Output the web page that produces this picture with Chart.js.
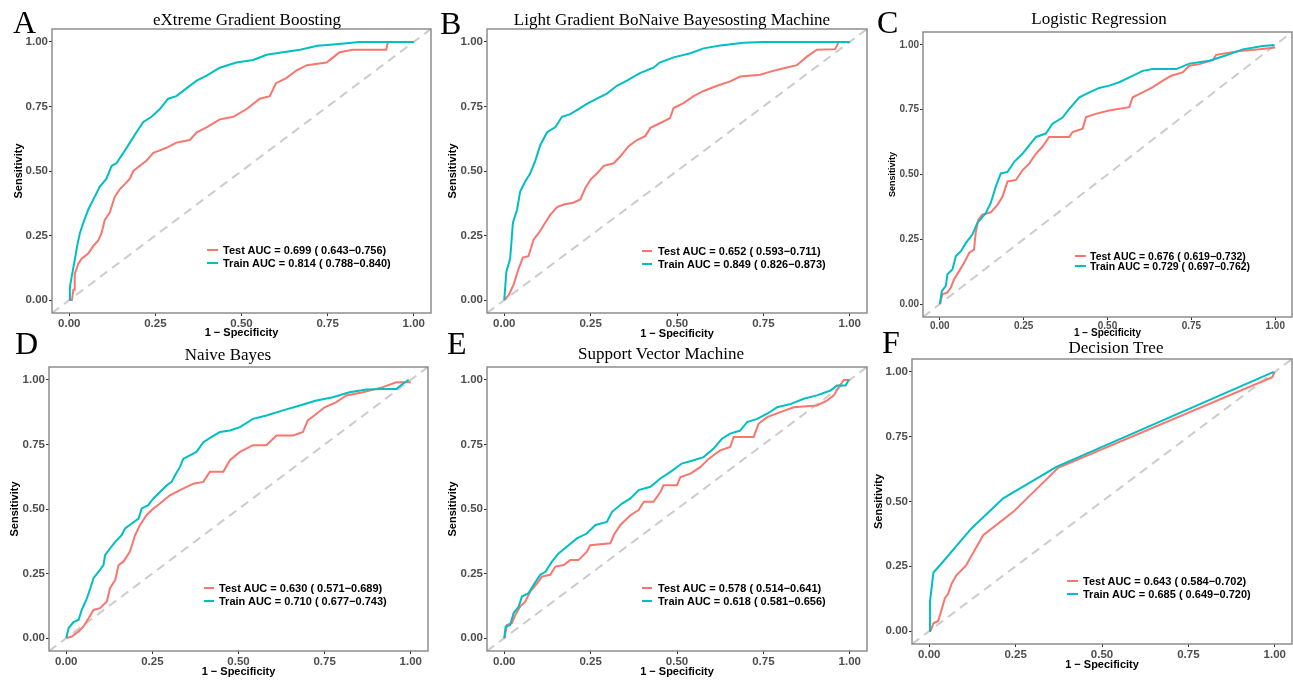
<!DOCTYPE html>
<html>
<head>
<meta charset="utf-8">
<script src="https://cdn.jsdelivr.net/npm/chart.js@4"></script>
<style>
  body { margin: 0; background: #fff; }
  #page { position: relative; width: 1293px; height: 681px; overflow: hidden; background: #fff; }
  .panel { position: absolute; }
  .letter { position: absolute; font-family: "Liberation Serif", "Times New Roman", serif; font-size: 32px; line-height: 32px; color: #000; }
  .title { position: absolute; font-family: "Liberation Serif", "Times New Roman", serif; font-size: 17px; line-height: 17px; color: #000; white-space: nowrap; transform: translateX(-50%); }
  .legLine { position: absolute; height: 2px; }
  .legText { position: absolute; font-family: "Liberation Sans", Arial, sans-serif; font-weight: bold; font-size: 11px; line-height: 13px; color: #000; white-space: nowrap; }
</style>
</head>
<body>
<div id="page"></div>
<script>
// ticks shared by every panel
const tickValues = [0, 0.25, 0.5, 0.75, 1];
const tickLabels = ["0.00", "0.25", "0.50", "0.75", "1.00"];

const panelLetters = ["A", "B", "C", "D", "E", "F"];
const panelTitles = [
    "eXtreme Gradient Boosting",
    "Light Gradient BoNaive Bayesosting Machine",
    "Logistic Regression",
    "Naive Bayes",
    "Support Vector Machine",
    "Decision Tree"
];
const testLabels = [
    "Test AUC = 0.699 ( 0.643\u22120.756)",
    "Test AUC = 0.652 ( 0.593\u22120.711)",
    "Test AUC = 0.676 ( 0.619\u22120.732)",
    "Test AUC = 0.630 ( 0.571\u22120.689)",
    "Test AUC = 0.578 ( 0.514\u22120.641)",
    "Test AUC = 0.643 ( 0.584\u22120.702)"
];
const trainLabels = [
    "Train AUC = 0.814 ( 0.788\u22120.840)",
    "Train AUC = 0.849 ( 0.826\u22120.873)",
    "Train AUC = 0.729 ( 0.697\u22120.762)",
    "Train AUC = 0.710 ( 0.677\u22120.743)",
    "Train AUC = 0.618 ( 0.581\u22120.656)",
    "Train AUC = 0.685 ( 0.649\u22120.720)"
];

// ROC points [1 - specificity, sensitivity]
const xgbTrain = [[0,0],[0.002,0.05],[0.007,0.09],[0.014,0.14],[0.023,0.21],[0.031,0.26],[0.041,0.30],[0.055,0.35],[0.07,0.39],[0.089,0.44],[0.108,0.47],[0.123,0.52],[0.137,0.53],[0.157,0.57],[0.176,0.61],[0.195,0.65],[0.215,0.69],[0.239,0.71],[0.263,0.74],[0.287,0.78],[0.311,0.79],[0.34,0.82],[0.37,0.85],[0.40,0.87],[0.437,0.90],[0.485,0.92],[0.534,0.93],[0.573,0.95],[0.62,0.96],[0.67,0.97],[0.72,0.985],[0.766,0.99],[0.843,1.0],[1,1]];
const xgbTest = [[0,0],[0.008,0.0],[0.012,0.04],[0.016,0.04],[0.016,0.10],[0.026,0.14],[0.036,0.16],[0.055,0.18],[0.07,0.21],[0.084,0.23],[0.094,0.26],[0.103,0.31],[0.118,0.34],[0.132,0.40],[0.147,0.43],[0.162,0.45],[0.176,0.47],[0.186,0.50],[0.205,0.52],[0.224,0.54],[0.244,0.57],[0.263,0.58],[0.282,0.59],[0.311,0.61],[0.35,0.62],[0.37,0.65],[0.40,0.67],[0.437,0.70],[0.476,0.71],[0.515,0.74],[0.553,0.78],[0.582,0.79],[0.60,0.84],[0.63,0.86],[0.66,0.89],[0.69,0.91],[0.747,0.92],[0.766,0.94],[0.785,0.96],[0.824,0.97],[0.92,0.97],[0.925,1.0],[1,1]];

const lgbmTrain = [[0,0],[0.006,0.11],[0.017,0.16],[0.025,0.30],[0.037,0.35],[0.046,0.42],[0.061,0.46],[0.075,0.49],[0.09,0.54],[0.104,0.60],[0.124,0.65],[0.148,0.67],[0.167,0.71],[0.191,0.72],[0.215,0.74],[0.239,0.76],[0.268,0.78],[0.297,0.80],[0.326,0.83],[0.355,0.85],[0.394,0.88],[0.432,0.90],[0.45,0.92],[0.49,0.94],[0.539,0.956],[0.577,0.975],[0.625,0.986],[0.693,0.997],[0.75,1.0],[1,1]];
const lgbmTest = [[0,0],[0.013,0.02],[0.027,0.06],[0.041,0.12],[0.054,0.165],[0.07,0.17],[0.085,0.235],[0.10,0.26],[0.114,0.29],[0.133,0.33],[0.153,0.36],[0.172,0.37],[0.20,0.377],[0.22,0.39],[0.235,0.435],[0.25,0.467],[0.268,0.49],[0.288,0.52],[0.317,0.53],[0.336,0.557],[0.36,0.596],[0.384,0.62],[0.408,0.635],[0.423,0.667],[0.452,0.686],[0.48,0.705],[0.49,0.744],[0.519,0.763],[0.548,0.79],[0.577,0.81],[0.616,0.83],[0.654,0.847],[0.683,0.866],[0.741,0.873],[0.77,0.885],[0.809,0.898],[0.847,0.91],[0.876,0.943],[0.905,0.97],[0.958,0.972],[0.968,1.0],[1,1]];

const lrTrain = [[0,0],[0.006,0.05],[0.018,0.07],[0.023,0.115],[0.038,0.134],[0.048,0.185],[0.063,0.204],[0.078,0.236],[0.097,0.268],[0.112,0.313],[0.137,0.351],[0.152,0.39],[0.167,0.453],[0.182,0.504],[0.202,0.51],[0.222,0.549],[0.247,0.581],[0.267,0.613],[0.287,0.645],[0.316,0.658],[0.336,0.696],[0.366,0.72],[0.386,0.753],[0.416,0.798],[0.446,0.817],[0.475,0.834],[0.505,0.843],[0.535,0.856],[0.565,0.875],[0.605,0.90],[0.635,0.907],[0.705,0.907],[0.744,0.928],[0.804,0.939],[0.854,0.96],[0.903,0.983],[0.963,0.996],[0.998,1.0]];
const lrTest = [[0,0],[0.008,0.038],[0.023,0.045],[0.033,0.064],[0.043,0.096],[0.058,0.128],[0.073,0.16],[0.088,0.198],[0.102,0.21],[0.107,0.275],[0.115,0.326],[0.127,0.345],[0.152,0.354],[0.172,0.383],[0.187,0.415],[0.202,0.473],[0.227,0.479],[0.247,0.517],[0.267,0.543],[0.287,0.581],[0.306,0.607],[0.326,0.645],[0.386,0.645],[0.396,0.664],[0.426,0.677],[0.436,0.722],[0.465,0.734],[0.505,0.747],[0.565,0.76],[0.575,0.798],[0.605,0.817],[0.635,0.837],[0.665,0.862],[0.69,0.881],[0.724,0.894],[0.744,0.92],[0.774,0.926],[0.814,0.941],[0.824,0.962],[0.894,0.977],[0.953,0.983],[1.0,0.99]];

const nbTrain = [[0,0],[0.007,0.039],[0.021,0.062],[0.036,0.071],[0.045,0.109],[0.06,0.154],[0.07,0.193],[0.079,0.232],[0.094,0.257],[0.108,0.283],[0.113,0.322],[0.127,0.347],[0.142,0.373],[0.161,0.399],[0.171,0.425],[0.19,0.444],[0.21,0.463],[0.219,0.502],[0.238,0.515],[0.253,0.541],[0.272,0.566],[0.292,0.592],[0.306,0.605],[0.316,0.631],[0.33,0.663],[0.34,0.695],[0.359,0.708],[0.378,0.721],[0.398,0.759],[0.422,0.779],[0.446,0.798],[0.475,0.804],[0.504,0.817],[0.542,0.849],[0.581,0.862],[0.629,0.882],[0.678,0.901],[0.726,0.92],[0.774,0.933],[0.822,0.952],[0.871,0.963],[0.919,0.965],[0.958,0.965],[0.977,0.985],[0.994,1.0]];
const nbTest = [[0,0],[0.016,0.006],[0.036,0.026],[0.05,0.045],[0.065,0.077],[0.079,0.109],[0.098,0.116],[0.118,0.142],[0.127,0.193],[0.142,0.225],[0.152,0.283],[0.166,0.296],[0.185,0.335],[0.2,0.399],[0.214,0.438],[0.233,0.476],[0.253,0.502],[0.272,0.521],[0.301,0.553],[0.33,0.573],[0.369,0.598],[0.398,0.605],[0.417,0.644],[0.456,0.644],[0.475,0.689],[0.504,0.721],[0.542,0.747],[0.581,0.747],[0.61,0.785],[0.659,0.785],[0.687,0.798],[0.701,0.843],[0.72,0.862],[0.75,0.894],[0.784,0.914],[0.813,0.94],[0.861,0.952],[0.919,0.972],[0.958,0.991],[1.0,0.991]];

const svmTrain = [[0,0],[0.004,0.045],[0.017,0.051],[0.027,0.097],[0.042,0.122],[0.051,0.161],[0.07,0.174],[0.085,0.206],[0.104,0.245],[0.119,0.257],[0.138,0.296],[0.157,0.328],[0.181,0.354],[0.21,0.386],[0.239,0.405],[0.264,0.438],[0.297,0.45],[0.312,0.489],[0.341,0.521],[0.365,0.541],[0.389,0.573],[0.423,0.586],[0.452,0.618],[0.481,0.644],[0.514,0.676],[0.548,0.689],[0.577,0.701],[0.606,0.734],[0.63,0.772],[0.654,0.792],[0.683,0.804],[0.703,0.837],[0.732,0.849],[0.761,0.869],[0.79,0.894],[0.83,0.907],[0.867,0.927],[0.905,0.94],[0.944,0.959],[0.963,0.978],[0.988,0.978],[0.997,1.0]];
const svmTest = [[0,0],[0.008,0.051],[0.022,0.058],[0.032,0.09],[0.046,0.122],[0.061,0.142],[0.075,0.18],[0.095,0.212],[0.109,0.238],[0.133,0.245],[0.148,0.277],[0.172,0.283],[0.191,0.302],[0.215,0.302],[0.239,0.335],[0.249,0.36],[0.307,0.367],[0.317,0.399],[0.336,0.438],[0.365,0.476],[0.389,0.496],[0.404,0.528],[0.432,0.528],[0.452,0.566],[0.461,0.592],[0.5,0.592],[0.51,0.624],[0.539,0.637],[0.568,0.663],[0.592,0.695],[0.625,0.727],[0.654,0.74],[0.664,0.779],[0.722,0.779],[0.736,0.83],[0.761,0.856],[0.799,0.875],[0.838,0.894],[0.905,0.901],[0.934,0.92],[0.954,0.94],[0.968,0.972],[0.983,1.0],[1,1]];

const dtTrain = [[0,0],[0.002,0.113],[0.012,0.226],[0.031,0.254],[0.122,0.396],[0.214,0.512],[0.368,0.634],[0.997,1.0]];
const dtTest = [[0,0],[0.005,0.004],[0.012,0.03],[0.026,0.039],[0.045,0.126],[0.055,0.145],[0.065,0.184],[0.079,0.216],[0.106,0.252],[0.156,0.37],[0.243,0.46],[0.373,0.63],[0.993,0.98],[1,1]];

// chance line across the whole panel (ggplot 5% expansion)
const refLine = [[-0.05, -0.05], [1.05, 1.05]];

const trainSeries = [xgbTrain, lgbmTrain, lrTrain, nbTrain, svmTrain, dtTrain];
const testSeries = [xgbTest, lgbmTest, lrTest, nbTest, svmTest, dtTest];

// layout of each panel in page pixels: plot box, axis-title centres, legend, letter, title
const layouts = [
    { L: 52, T: 29, R: 431, B: 313, sx: 19, sy: 333, fs: 11.5, ys: 11, tp: 1, lg: [207, 218, 223, 250, 263], let: [13, 33], ti: [247, 25] },
    { L: 487, T: 29, R: 867, B: 313, sx: 453, sy: 334, fs: 11.5, ys: 11, tp: 1, lg: [642, 652, 658, 251, 264], let: [440, 34], ti: [672, 25] },
    { L: 923, T: 32, R: 1292, B: 317, sx: 892, sy: 333, fs: 10, ys: 9, tp: 0, lg: [1075, 1086, 1090, 256, 266], let: [877, 33], ti: [1099, 24] },
    { L: 49, T: 367, R: 428, B: 651, sx: 15, sy: 672, fs: 11.5, ys: 11, tp: 1, lg: [204, 214, 219, 588, 601], let: [15, 354], ti: [228, 360] },
    { L: 487, T: 367, R: 867, B: 651, sx: 453, sy: 672, fs: 11.5, ys: 11, tp: 1, lg: [642, 652, 658, 588, 601], let: [447, 354], ti: [661, 359] },
    { L: 912, T: 359, R: 1292, B: 644, sx: 879, sy: 665, fs: 11.5, ys: 11, tp: 1, lg: [1067, 1078, 1083, 581, 594], let: [882, 353], ti: [1116, 353] }
];

const testColor = "#F8766D";
const trainColor = "#00BFC4";

const framePlugin = {
    id: "frame",
    afterDraw(chart) {
        const a = chart.chartArea;
        const c = chart.ctx;
        c.save();
        c.strokeStyle = "#858585";
        c.lineWidth = 1.4;
        c.strokeRect(a.left, a.top, a.right - a.left, a.bottom - a.top);
        c.restore();
    }
};

const page = document.getElementById("page");

function addDiv(cls, left, top, text) {
    const d = document.createElement("div");
    d.className = cls;
    d.style.left = left + "px";
    d.style.top = top + "px";
    if (text !== undefined) d.textContent = text;
    page.appendChild(d);
    return d;
}

function toXY(pairs) {
    return pairs.map(p => ({ x: p[0], y: p[1] }));
}

function makePanel(i) {
    const p = layouts[i];
    const titleSize = Math.min(p.fs, 11);
    const half = titleSize * 1.2 / 2;
    const halfY = p.ys * 1.2 / 2;
    const left = Math.round(p.sx - halfY);
    const top = p.T - 1;
    const right = Math.min(1293, p.R + 1);
    const bottom = Math.round(p.sy + half);
    const yAxisW = p.L - left;
    const xAxisH = bottom - p.B;

    const box = addDiv("panel", left, top);
    box.style.width = (right - left) + "px";
    box.style.height = (bottom - top) + "px";
    const canvas = document.createElement("canvas");
    box.appendChild(canvas);

    // letter and title
    addDiv("letter", p.let[0], p.let[1] - 27, panelLetters[i]);
    addDiv("title", p.ti[0], p.ti[1] - 14, panelTitles[i]);

    // legend
    const lg = p.lg;
    const rows = [[testLabels[i], testColor, lg[3]], [trainLabels[i], trainColor, lg[4]]];
    rows.forEach(r => {
        const ln = addDiv("legLine", lg[0], r[2] - 1);
        ln.style.width = (lg[1] - lg[0]) + "px";
        ln.style.background = r[1];
        const tx = addDiv("legText", lg[2], r[2] - 6.5, r[0]);
        if (p.fs < 11) { tx.style.fontSize = "10.5px"; }
    });

    const tickFont = { family: "Liberation Sans", weight: "bold", size: p.fs };
    const axisScale = (titleText, tSize, isY, axisSize) => ({
        type: "linear",
        min: -0.05,
        max: 1.05,
        afterBuildTicks: s => { s.ticks = tickValues.map(v => ({ value: v })); },
        afterFit: s => {
            // fixed axis sizes so the plot box lands where it is in the figure
            if (isY) {
                s.width = axisSize;
                s.paddingTop = 0;
                s.paddingBottom = 0;
            } else {
                s.height = axisSize;
                s.paddingLeft = 0;
                s.paddingRight = 0;
            }
        },
        ticks: {
            font: tickFont,
            color: "#4d4d4d",
            padding: isY ? 1 : p.tp,
            maxRotation: 0,
            callback: v => tickLabels[tickValues.indexOf(v)]
        },
        grid: { display: true, drawOnChartArea: false, drawTicks: true, tickLength: 3, color: "#333", lineWidth: 1 },
        border: { display: false },
        title: {
            display: true,
            text: titleText,
            color: "#000",
            padding: 0,
            font: { family: "Liberation Sans", weight: "bold", size: tSize }
        }
    });

    new Chart(canvas, {
        type: "scatter",
        data: {
            datasets: [
                { label: trainLabels[i], data: toXY(trainSeries[i]), borderColor: trainColor, borderWidth: 2, showLine: true, pointRadius: 0, fill: false },
                { label: testLabels[i], data: toXY(testSeries[i]), borderColor: testColor, borderWidth: 2, showLine: true, pointRadius: 0, fill: false },
                { label: "ref", data: toXY(refLine), borderColor: "#cccccc", borderWidth: 2, borderDash: [9, 6], showLine: true, pointRadius: 0, fill: false }
            ]
        },
        options: {
            responsive: true,
            maintainAspectRatio: false,
            animation: false,
            events: [],
            layout: { padding: { top: 1, right: right - p.R, left: 0, bottom: 0 } },
            scales: {
                x: axisScale("1 \u2212 Specificity", titleSize, false, xAxisH),
                y: axisScale("Sensitivity", p.ys, true, yAxisW)
            },
            plugins: {
                legend: { display: false },
                tooltip: { enabled: false }
            }
        },
        plugins: [framePlugin]
    });
}

for (let i = 0; i < 6; i++) {
    makePanel(i);
}
</script>
</body>
</html>
